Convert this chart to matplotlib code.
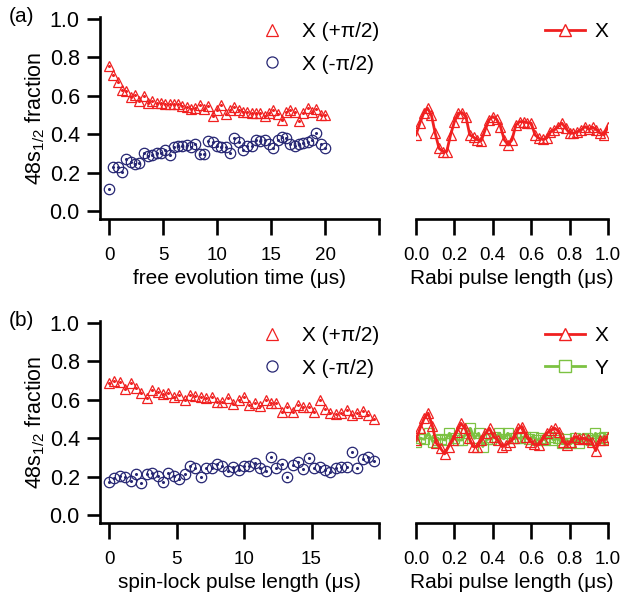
import numpy as np
import matplotlib
matplotlib.use("Agg")
import matplotlib.pyplot as plt
from matplotlib.lines import Line2D

plt.rcParams['font.family'] = ['Liberation Sans', 'DejaVu Sans']
plt.rcParams['mathtext.fontset'] = 'custom'
plt.rcParams['mathtext.rm'] = 'Liberation Sans'
plt.rcParams['mathtext.it'] = 'Liberation Sans:italic'

RED = '#f02020'
NAVY = '#262673'
GREEN = '#7cc242'

# (a) free evolution, 0.4 us steps
t_free = np.arange(51) * 0.4
a_plus = [0.755, 0.708, 0.673, 0.630, 0.625, 0.592, 0.604, 0.575, 0.599, 0.564,
          0.570, 0.561, 0.561, 0.557, 0.557, 0.555, 0.555, 0.548, 0.543, 0.530,
          0.535, 0.552, 0.532, 0.546, 0.495, 0.528, 0.552, 0.505, 0.528, 0.540,
          0.528, 0.517, 0.517, 0.512, 0.509, 0.512, 0.495, 0.512, 0.524, 0.505,
          0.474, 0.517, 0.524, 0.517, 0.470, 0.509, 0.535, 0.517, 0.530, 0.502,
          0.502]
a_minus = [0.115, 0.227, 0.230, 0.201, 0.269, 0.257, 0.245, 0.248, 0.300, 0.286,
           0.292, 0.304, 0.304, 0.318, 0.292, 0.332, 0.339, 0.339, 0.344, 0.335,
           0.349, 0.297, 0.297, 0.366, 0.361, 0.339, 0.335, 0.335, 0.304, 0.378,
           0.361, 0.318, 0.339, 0.339, 0.370, 0.366, 0.370, 0.349, 0.326, 0.370,
           0.384, 0.378, 0.349, 0.339, 0.349, 0.352, 0.361, 0.370, 0.408, 0.349,
           0.326]

# (a) Rabi X
a_rabi_x = [0.396, 0.457, 0.509, 0.535, 0.500, 0.405, 0.326, 0.309, 0.309, 0.396,
            0.465, 0.509, 0.512, 0.491, 0.396, 0.384, 0.370, 0.366, 0.422, 0.474,
            0.491, 0.477, 0.439, 0.370, 0.344, 0.370, 0.448, 0.465, 0.465, 0.460,
            0.457, 0.396, 0.378, 0.373, 0.378, 0.413, 0.422, 0.439, 0.457, 0.430,
            0.405, 0.405, 0.413, 0.422, 0.439, 0.425, 0.436, 0.422, 0.405, 0.396,
            0.439]

# (b) spin-lock, 0.4 us steps
t_lock = np.arange(50) * 0.4
b_plus = [0.686, 0.698, 0.691, 0.655, 0.689, 0.660, 0.634, 0.608, 0.651, 0.642,
          0.628, 0.637, 0.613, 0.625, 0.599, 0.625, 0.620, 0.616, 0.611, 0.616,
          0.590, 0.590, 0.608, 0.578, 0.599, 0.613, 0.573, 0.585, 0.568, 0.597,
          0.582, 0.585, 0.538, 0.561, 0.535, 0.573, 0.564, 0.564, 0.538, 0.597,
          0.550, 0.533, 0.526, 0.530, 0.545, 0.523, 0.530, 0.540, 0.520, 0.500]
b_minus = [0.174, 0.191, 0.203, 0.200, 0.177, 0.212, 0.168, 0.214, 0.220, 0.203,
           0.174, 0.220, 0.203, 0.186, 0.214, 0.255, 0.243, 0.200, 0.247, 0.243,
           0.266, 0.255, 0.231, 0.252, 0.234, 0.255, 0.257, 0.273, 0.243, 0.231,
           0.300, 0.247, 0.266, 0.200, 0.260, 0.278, 0.238, 0.295, 0.243, 0.252,
           0.234, 0.226, 0.243, 0.252, 0.252, 0.330, 0.243, 0.290, 0.300, 0.280]

# (b) Rabi X and Y
b_rabi_x = [0.390, 0.451, 0.503, 0.530, 0.464, 0.373, 0.347, 0.318, 0.356, 0.390,
            0.434, 0.477, 0.451, 0.399, 0.356, 0.356, 0.390, 0.425, 0.451, 0.408,
            0.390, 0.356, 0.365, 0.382, 0.399, 0.451, 0.460, 0.408, 0.382, 0.368,
            0.365, 0.394, 0.425, 0.443, 0.451, 0.434, 0.382, 0.365, 0.382, 0.408,
            0.396, 0.399, 0.394, 0.382, 0.335, 0.390, 0.390, 0.408]
b_rabi_y = [0.382, 0.399, 0.394, 0.425, 0.382, 0.390, 0.396, 0.390, 0.425, 0.399,
            0.390, 0.390, 0.425, 0.451, 0.399, 0.425, 0.356, 0.394, 0.396, 0.408,
            0.425, 0.396, 0.425, 0.400, 0.399, 0.400, 0.408, 0.394, 0.408, 0.390,
            0.400, 0.390, 0.408, 0.390, 0.399, 0.373, 0.394, 0.373, 0.399, 0.373,
            0.396, 0.399, 0.390, 0.425, 0.399, 0.408, 0.396]

W, H = 625, 604
fig = plt.figure(figsize=(6.25, 6.04), dpi=100)


def px_axes(x0, x1, ytop, ybot):
    return fig.add_axes([x0 / W, (H - ybot) / H, (x1 - x0) / W, (ybot - ytop) / H])


def style(ax, left=True):
    for s in ['top', 'right']:
        ax.spines[s].set_visible(False)
    ax.spines['bottom'].set_linewidth(1.9)
    ax.spines['left'].set_linewidth(1.9)
    ax.spines['left'].set_visible(left)
    ax.tick_params(axis='x', direction='out', length=11.5, width=1.9,
                   pad=9, labelsize=13.5)
    if left:
        ax.tick_params(axis='y', direction='out', length=9.5, width=1.9,
                       pad=5, labelsize=15.5)
        ax.set_yticks([0.0, 0.2, 0.4, 0.6, 0.8, 1.0])
        ax.set_yticklabels(['0.0', '0.2', '0.4', '0.6', '0.8', '1.0'])
        ax.set_ylabel(r'48s$_{\mathrm{1/2}}$ fraction', fontsize=15.5, labelpad=2)
    else:
        ax.set_yticks([])
    ax.set_ylim(-0.042, 1.01)
    ax.patch.set_alpha(0)


def dots(ax, x, y, color, marker, ms):
    ax.plot(x, y, ls='none', marker=marker, ms=ms, mfc='none', mec=color, mew=0.9)
    ax.plot(x, y, ls='none', marker='o', ms=1.2, color=color)


rows = [(19, 219), (323, 523)]
for row, (ytop, ybot) in enumerate(rows):
    axl = px_axes(100, 379, ytop - 2, ybot)
    axr = px_axes(416, 608, ytop - 2, ybot)
    style(axl)
    style(axr, left=False)
    axr.set_xlim(0, 1)
    axr.set_xticks([0, 0.2, 0.4, 0.6, 0.8, 1.0])
    axr.set_xticklabels(['0.0', '0.2', '0.4', '0.6', '0.8', '1.0'])
    axr.set_xlabel('Rabi pulse length (μs)', fontsize=15, labelpad=3.5)

    if row == 0:
        dots(axl, t_free, a_plus, RED, '^', 7)
        dots(axl, t_free, a_minus, NAVY, 'o', 7.5)
        axl.set_xlim(-0.84, 25)
        axl.set_xticks([0, 5, 10, 15, 20, 25])
        axl.set_xticklabels(['0', '5', '10', '15', '20', ''])
        axl.set_xlabel('free evolution time (μs)', fontsize=15, labelpad=3.5)
        x_r = np.linspace(0, 1, len(a_rabi_x))
        axr.plot(x_r, a_rabi_x, color=RED, lw=2, marker='^', ms=7,
                 mfc='none', mec=RED, mew=0.9)
        rh = [Line2D([], [], color=RED, lw=2, marker='^', ms=8, mfc='white', mec=RED)]
        rl = ['X']
        label = '(a)'
    else:
        dots(axl, t_lock, b_plus, RED, '^', 7)
        dots(axl, t_lock, b_minus, NAVY, 'o', 7.5)
        axl.set_xlim(-0.67, 20)
        axl.set_xticks([0, 5, 10, 15, 20])
        axl.set_xticklabels(['0', '5', '10', '15', ''])
        axl.set_xlabel('spin-lock pulse length (μs)', fontsize=15, labelpad=3.5)
        axr.plot(np.linspace(0, 1, len(b_rabi_y)), b_rabi_y, color=GREEN, lw=2,
                 marker='s', ms=7, mfc='none', mec=GREEN, mew=0.9)
        axr.plot(np.linspace(0, 1, len(b_rabi_x)), b_rabi_x, color=RED, lw=2,
                 marker='^', ms=7, mfc='none', mec=RED, mew=0.9)
        rh = [Line2D([], [], color=RED, lw=2, marker='^', ms=8, mfc='white', mec=RED),
              Line2D([], [], color=GREEN, lw=2, marker='s', ms=8, mfc='white', mec=GREEN)]
        rl = ['X', 'Y']
        label = '(b)'

    lh = [Line2D([], [], ls='none', marker='^', ms=8, mfc='none', mec=RED, mew=0.9),
          Line2D([], [], ls='none', marker='o', ms=8, mfc='none', mec=NAVY, mew=0.9)]
    top = (H - ytop - 3) / H
    fig.legend(lh, ['X (+π/2)', 'X (-π/2)'], loc='upper left',
               bbox_to_anchor=(262 / W, top), frameon=False,
               fontsize=15, handlelength=1.0, handletextpad=0.9,
               labelspacing=0.65, borderpad=0, borderaxespad=0)
    fig.legend(rh, rl, loc='upper left',
               bbox_to_anchor=(545 / W, top), frameon=False,
               fontsize=15, handlelength=1.9, handletextpad=0.5,
               labelspacing=0.65, borderpad=0, borderaxespad=0)
    fig.text(9 / W, (H - ytop + 3) / H, label, fontsize=15, va='center', ha='left')

fig.savefig('out.png', dpi=100)
